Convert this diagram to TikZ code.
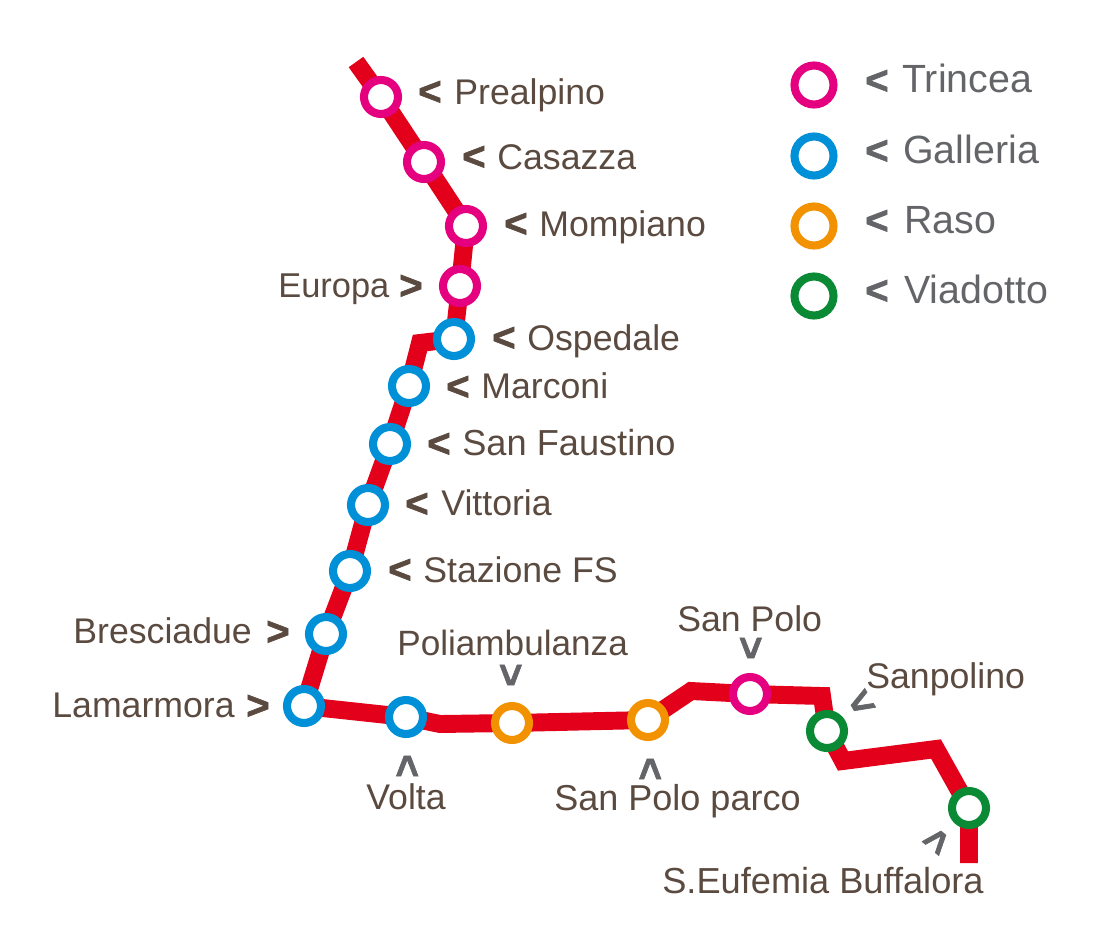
\documentclass[tikz,border=0pt]{standalone}
\usepackage{fontspec}
\setmainfont{Liberation Sans}
\newfontfamily\chevfont[FakeBold=1.6]{Liberation Sans Bold}
\usetikzlibrary{backgrounds}
\definecolor{metrored}{HTML}{E2001A}
\definecolor{trincea}{HTML}{E4007F}
\definecolor{galleria}{HTML}{0090D7}
\definecolor{raso}{HTML}{F39200}
\definecolor{viadotto}{HTML}{0A8A35}
\definecolor{brownink}{HTML}{5A4A3F}
\definecolor{greyink}{HTML}{646568}
\tikzset{
	ring/.style={circle, draw=#1, fill=white, line width=4.6pt, minimum size=0.68cm, inner sep=0pt, outer sep=-1pt},
	bigring/.style={ring=#1, minimum size=0.78cm},
	metro/.style={draw=metrored, line width=10.2pt, line join=miter},
	lbl/.style={anchor=base west, inner sep=0pt, text=brownink, font=\fontsize{20.3}{24}\selectfont},
	lbls/.style={lbl, font=\fontsize{#1}{24}\selectfont},
	lgd/.style={lbl, text=greyink, font=\fontsize{22.4}{26}\selectfont},
	chev/.style={inner sep=0pt, text=brownink, font=\fontsize{23}{24}\chevfont},
	gchev/.style={chev, text=greyink}
}

\begin{document}
\begin{tikzpicture}[x=0.02cm, y=-0.02cm]
	\useasboundingbox (0,0) rectangle (1103,947);

	% stations
	\node [ring=trincea] (prealpino) at (381,97) {};
	\node [ring=trincea] (casazza) at (424,162) {};
	\node [ring=trincea] (mompiano) at (466,226) {};
	\node [ring=trincea] (europa) at (460,286) {};
	\node [ring=galleria] (ospedale) at (454,339) {};
	\node [ring=galleria] (marconi) at (409,386) {};
	\node [ring=galleria] (faustino) at (390,444) {};
	\node [ring=galleria] (vittoria) at (368,505) {};
	\node [ring=galleria] (stazione) at (350,571) {};
	\node [ring=galleria] (bresciadue) at (326,634) {};
	\node [ring=galleria] (lamarmora) at (304,706) {};
	\node [ring=galleria] (volta) at (406,717) {};
	\node [ring=raso] (poli) at (512,723) {};
	\node [ring=raso] (parco) at (648,720) {};
	\node [ring=trincea] (sanpolo) at (750,694) {};
	\node [ring=viadotto] (sanpolino) at (827,731) {};
	\node [ring=viadotto] (eufemia) at (969,808) {};

	% free ends and bends of the line
	\coordinate (top) at (356,62);
	\coordinate (bendA) at (420,343);
	\coordinate (bendB) at (440,724);
	\coordinate (bendC) at (691,691);
	\coordinate (bendD) at (822,696);
	\coordinate (bendE) at (843,761);
	\coordinate (bendF) at (936,749);
	\coordinate (bottom) at (969,863);

	\begin{pgfonlayer}{background}
		\draw [metro] (top) -- (prealpino) -- (casazza) -- (mompiano) -- (europa) -- (ospedale) -- (bendA) -- (marconi) -- (faustino) -- (vittoria) -- (stazione) -- (bresciadue) -- (lamarmora) -- (volta) -- (bendB) -- (poli) -- (parco) -- (bendC) -- (sanpolo) -- (bendD) -- (sanpolino) -- (bendE) -- (bendF) -- (eufemia) -- (bottom);
	\end{pgfonlayer}

	% labels
	\node [lbl] (lprealpino) at (454,104) {Prealpino};
	\node [lbl] (lcasazza) at (497,169) {Casazza};
	\node [lbl] (lmompiano) at (539,236) {Mompiano};
	\node [lbls=19.6] (leuropa) at (278,297) {Europa};
	\node [lbl] (lospedale) at (527,350) {Ospedale};
	\node [lbl] (lmarconi) at (481,398) {Marconi};
	\node [lbls=20.6] (lfaustino) at (462,455) {San Faustino};
	\node [lbl] (lvittoria) at (441,515) {Vittoria};
	\node [lbl] (lstazione) at (423,582) {Stazione FS};
	\node [lbl] (lbresciadue) at (73,643) {Bresciadue};
	\node [lbl] (llamarmora) at (52,717) {Lamarmora};
	\node [lbls=20] (lpoli) at (397,655) {Poliambulanza};
	\node [lbl] (lsanpolo) at (677,631) {San Polo};
	\node [lbl] (lsanpolino) at (866,688) {Sanpolino};
	\node [lbl] (lvolta) at (366,809) {Volta};
	\node [lbls=20.5] (lparco) at (554,810) {San Polo parco};
	\node [lbls=20.6] (leufemia) at (662,893) {S.Eufemia Buffalora};

	% chevrons
	\node [chev] (cprealpino) at (430,93) {<};
	\node [chev] (ccasazza) at (474,158) {<};
	\node [chev] (cmompiano) at (516,225) {<};
	\node [chev] (ceuropa) at (411,287) {>};
	\node [chev] (cospedale) at (504,339) {<};
	\node [chev] (cmarconi) at (458,388) {<};
	\node [chev] (cfaustino) at (439,445) {<};
	\node [chev] (cvittoria) at (417,505) {<};
	\node [chev] (cstazione) at (400,571) {<};
	\node [chev] (cbresciadue) at (278,633) {>};
	\node [chev] (clamarmora) at (258,707) {>};
	\node [gchev, rotate=90] (cpoli) at (512,675) {<};
	\node [gchev, rotate=90] (csanpolo) at (752,648) {<};
	\node [gchev, rotate=30] (csanpolino) at (862,704) {<};
	\node [gchev, rotate=-90] (cvolta) at (406,766) {<};
	\node [gchev, rotate=-90] (cparco) at (649,769) {<};
	\node [gchev, rotate=-130] (ceufemia) at (936,840) {<};

	% legend
	\node [bigring=trincea] (ktrincea) at (814,85) {};
	\node [bigring=galleria] (kgalleria) at (814,156) {};
	\node [bigring=raso] (kraso) at (814,226) {};
	\node [bigring=viadotto] (kviadotto) at (814,296) {};
	\node [gchev] (ctrincea) at (877,82) {<};
	\node [gchev] (cgalleria) at (877,152) {<};
	\node [gchev] (craso) at (877,222) {<};
	\node [gchev] (cviadotto) at (877,292) {<};
	\node [lgd] (ltrincea) at (902,92) {Trincea};
	\node [lgd] (lgalleria) at (903,163) {Galleria};
	\node [lgd] (lraso) at (904,233) {Raso};
	\node [lgd] (lviadotto) at (904,303) {Viadotto};
\end{tikzpicture}
\end{document}
